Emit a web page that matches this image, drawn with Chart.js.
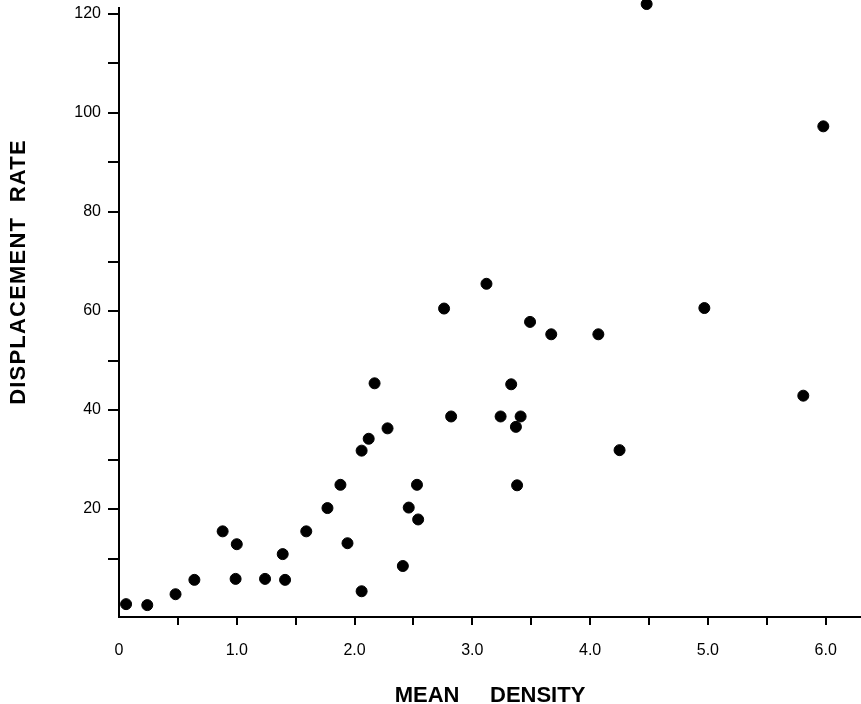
<!DOCTYPE html>
<html>
<head>
<meta charset="utf-8">
<script src="https://cdn.jsdelivr.net/npm/chart.js@4/dist/chart.umd.min.js"></script>
<style>
  body { margin: 0; background: #fff; }
  canvas { display: block; }
</style>
</head>
<body>
<canvas id="chart" width="861" height="704"></canvas>
<script>
// mean density vs displacement rate
const density = [0.06, 0.24, 0.48, 0.64, 0.88, 1.00, 0.99, 1.24, 1.41, 1.39,
                 1.59, 1.77, 1.88, 1.94, 2.06, 2.12, 2.06, 2.76, 3.49, 3.67,
                 4.07, 2.17, 3.33, 2.82, 3.24, 3.41, 3.37, 2.28, 2.53, 3.38,
                 2.46, 2.54, 2.41, 4.97, 5.81, 4.25, 3.12, 4.48, 5.98];
const displacement = [0.8, 0.6, 2.8, 5.7, 15.5, 12.9, 5.9, 5.9, 5.7, 10.9,
                      15.5, 20.2, 24.9, 13.1, 31.8, 34.2, 3.4, 60.5, 57.8, 55.3,
                      55.3, 45.4, 45.2, 38.7, 38.7, 38.7, 36.6, 36.3, 24.9, 24.8,
                      20.3, 17.9, 8.5, 60.6, 42.9, 31.9, 65.5, 122, 97.3];

const xTicks = [0, 0.5, 1, 1.5, 2, 2.5, 3, 3.5, 4, 4.5, 5, 5.5, 6];
const xTickLabels = ['0', '', '1.0', '', '2.0', '', '3.0', '', '4.0', '', '5.0', '', '6.0'];
const yTicks = [10, 20, 30, 40, 50, 60, 70, 80, 90, 100, 110, 120];
const yTickLabels = ['', '20', '', '40', '', '60', '', '80', '', '100', '', '120'];

const xTitle = 'MEAN     DENSITY';
const yTitle = 'DISPLACEMENT  RATE';

const points = density.map((d, i) => ({x: d, y: displacement[i]}));

const tickFont = {family: '"Liberation Sans", Arial, sans-serif', size: 16};

// axis titles sit off-centre in the original, so draw them by hand
const axisTitles = {
  id: 'axisTitles',
  afterDraw(chart) {
    const c = chart.ctx;
    const a = chart.chartArea;
    c.save();
    c.fillStyle = '#000';
    c.font = 'bold 22px "Liberation Sans", Arial, sans-serif';
    c.textAlign = 'center';
    c.textBaseline = 'alphabetic';
    c.fillText(xTitle, (a.left + a.right) / 2, 702);
    c.translate(25, 272);
    c.rotate(-Math.PI / 2);
    c.letterSpacing = '1.2px';
    c.fillText(yTitle, 0, 0);
    c.restore();
  }
};

// no extra room for the end labels, the axes run to the page edges
function noPad(s) {
  s.paddingLeft = 0;
  s.paddingRight = 0;
  s.paddingTop = 0;
  s.paddingBottom = 0;
}

new Chart(document.getElementById('chart'), {
  type: 'scatter',
  data: {
    datasets: [{
      data: points,
      backgroundColor: '#000',
      borderColor: '#000',
      pointRadius: 5.5,
      pointHoverRadius: 5.5,
      clip: false
    }]
  },
  options: {
    responsive: false,
    animation: false,
    events: [],
    layout: {autoPadding: false, padding: {top: 8, left: 0, right: 0, bottom: 0}},
    plugins: {legend: {display: false}, tooltip: {enabled: false}},
    scales: {
      x: {
        type: 'linear',
        min: 0,
        max: 6.3,
        afterFit: s => { s.height = 87; noPad(s); },
        afterBuildTicks: s => { s.ticks = xTicks.map(v => ({value: v})); },
        ticks: {
          callback: (v, i) => xTickLabels[i],
          font: tickFont,
          color: '#000',
          padding: 16,
          maxRotation: 0,
          autoSkip: false
        },
        grid: {
          drawOnChartArea: false,
          drawTicks: true,
          tickLength: 8,
          lineWidth: 2,
          color: c => (c.tick && c.tick.value === 0) ? 'rgba(0,0,0,0)' : '#000'
        },
        border: {display: true, color: '#000', width: 2}
      },
      y: {
        type: 'linear',
        min: -1.8,
        max: 121.2,
        afterFit: s => { s.width = 119; noPad(s); },
        afterBuildTicks: s => { s.ticks = yTicks.map(v => ({value: v})); },
        ticks: {
          callback: (v, i) => yTickLabels[i],
          font: tickFont,
          color: '#000',
          padding: 7,
          autoSkip: false
        },
        grid: {
          drawOnChartArea: false,
          drawTicks: true,
          tickLength: 11,
          lineWidth: 2,
          color: '#000'
        },
        border: {display: true, color: '#000', width: 2}
      }
    }
  },
  plugins: [axisTitles]
});
</script>
</body>
</html>
